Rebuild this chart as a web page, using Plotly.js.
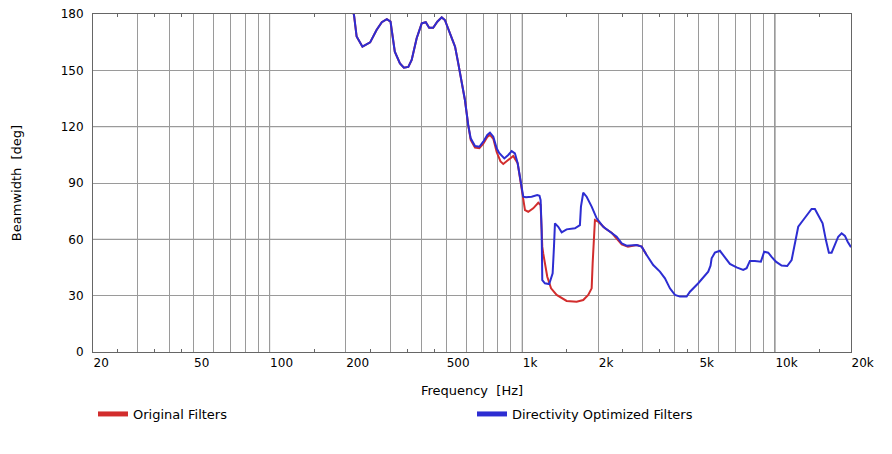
<!DOCTYPE html>
<html>
<head>
<meta charset="utf-8">
<script src="https://cdn.plot.ly/plotly-3.0.1.min.js"></script>
<style>
  body { margin: 0; background: #fff; }
  #beamwidth-chart { width: 892px; height: 454px; }
</style>
</head>
<body>
<div id="beamwidth-chart"></div>
<script>
// Beamwidth vs frequency
var freqOptimized = [212, 216, 221, 233, 250, 265, 278, 291, 301, 313, 328, 340, 354, 365, 382, 400, 415, 428, 444, 461,
    480, 494, 526, 542, 558, 575, 593, 611, 625, 650, 676, 701, 727, 745, 768, 792, 810, 849, 880, 908,
    935, 959, 979, 994, 1009, 1034, 1089, 1146, 1170, 1182, 1193, 1200, 1229, 1278, 1319, 1335, 1347, 1388, 1432, 1498,
    1616, 1691, 1707, 1743, 1798, 1882, 1970, 2092, 2224, 2364, 2475, 2588, 2836, 2968, 3106, 3298, 3506, 3670, 3840, 4020,
    4208, 4472, 4610, 4972, 5444, 5560, 5616, 5786, 6056, 6338, 6634, 7052, 7490, 7726, 7960, 8332, 8798, 9068, 9404, 9700,
    10088, 10626, 11182, 11642, 12074, 12364, 12942, 13418, 13966, 14392, 14832, 15440, 15912, 16350, 16760, 17272, 17802, 18362, 18924, 19400,
    20000];
var beamOptimized = [184, 179, 168, 162.6, 164.9, 171.5, 175.6, 177.2, 175.9, 159.9, 153.7, 151.4, 151.8, 155.5, 167.1, 175.0, 175.6, 172.7, 172.7, 175.9,
    178.2, 176.8, 167.1, 162.6, 153.7, 144.9, 134.2, 120.9, 113.8, 109.7, 109.3, 112.0, 115.6, 116.8, 114.7, 108.5, 106.0, 103.1, 104.9, 107.0,
    105.8, 100.5, 93.4, 88.0, 82.7, 82.4, 82.7, 83.6, 83.2, 80.9, 65.0, 38.3, 36.6, 36.2, 41.9, 56.1, 68.5, 66.7, 63.7, 65.3,
    65.9, 67.6, 77.4, 84.8, 82.7, 77.4, 71.2, 66.7, 64.1, 61.4, 57.9, 56.6, 57.0, 56.1, 51.7, 46.3, 42.8, 39.2, 33.9, 30.4,
    29.5, 29.5, 32.1, 36.6, 42.8, 46.0, 49.9, 52.9, 53.9, 50.7, 46.9, 45.1, 43.7, 44.6, 48.5, 48.5, 48.1, 53.4, 52.9, 50.7,
    48.1, 46.0, 45.8, 49.0, 58.7, 66.7, 70.3, 73.0, 76.2, 76.2, 73.0, 68.5, 59.6, 52.9, 52.9, 57.0, 61.4, 63.2, 61.8, 58.7,
    55.8];

var freqOriginal = [212, 216, 221, 233, 250, 265, 278, 291, 301, 313, 328, 340, 354, 365, 382, 400, 415, 428, 444, 461,
    480, 494, 526, 542, 558, 575, 593, 611, 625, 650, 676, 701, 727, 745, 768, 792, 820, 841, 880, 921,
    959, 979, 994, 1015, 1025, 1056, 1105, 1157, 1182, 1200, 1210, 1256, 1300, 1368, 1498, 1641, 1743, 1824, 1882, 1899,
    1921, 1939, 1998, 2124, 2258, 2364, 2475, 2620, 2836, 2968, 3106];
var beamOriginal = [184, 179, 168, 162.6, 164.9, 171.5, 175.6, 177.2, 175.9, 159.9, 153.7, 151.4, 151.8, 155.5, 167.1, 175.0, 175.6, 172.7, 172.7, 175.9,
    178.2, 176.8, 167.1, 162.6, 153.7, 144.9, 134.2, 120.9, 113.0, 108.9, 108.6, 111.0, 114.5, 115.6, 113.5, 106.5, 101.5, 100.1, 102.2, 104.4,
    100.5, 93.0, 86.0, 77.4, 75.6, 74.7, 76.5, 79.5, 78.3, 56.1, 52.6, 40.1, 33.9, 30.4, 27.2, 26.8, 27.7, 30.4, 33.9, 47.2,
    58.7, 70.3, 69.4, 65.9, 63.5, 60.5, 57.3, 56.1, 57.0, 56.1, 51.7];

// axis grid and labels
var xGridVals = [20, 30, 40, 50, 60, 70, 80, 90, 100, 200, 300, 400, 500, 600, 700, 800, 900,
    1000, 2000, 3000, 4000, 5000, 6000, 7000, 8000, 9000, 10000, 20000];
var xLabelMap = {20: '20', 50: '50', 100: '100', 200: '200', 500: '500', 1000: '1k',
    2000: '2k', 5000: '5k', 10000: '10k', 20000: '20k'};
var xSmallTicks = [25, 35, 45, 150, 250, 350, 450, 1500, 2500, 3500, 4500, 15000];
var xDecades = [100, 1000, 10000];
var yTickVals = [0, 30, 60, 90, 120, 150, 180];
var yDarkLines = [60, 120];

var redColor = '#d22d2d';
var blueColor = '#2d2dd2';
var lightGrid = '#9a9a9a';
var darkGrid = '#666666';

var traceOriginal = {
    x: freqOriginal, y: beamOriginal, type: 'scatter', mode: 'lines',
    name: 'Original Filters', showlegend: false,
    line: { color: redColor, width: 2 }
};
var traceOptimized = {
    x: freqOptimized, y: beamOptimized, type: 'scatter', mode: 'lines',
    name: 'Directivity Optimized Filters', showlegend: false,
    line: { color: blueColor, width: 2 }
};
// legend-only entries so the swatches are thick like the reference
var legOriginal = { x: [null], y: [null], type: 'scatter', mode: 'lines', legend: 'legend',
    name: 'Original Filters', line: { color: redColor, width: 5 } };
var legOptimized = { x: [null], y: [null], type: 'scatter', mode: 'lines', legend: 'legend2',
    name: 'Directivity Optimized Filters', line: { color: blueColor, width: 5 } };

var shapes = [];
xDecades.forEach(function (v) {
    shapes.push({ type: 'line', xref: 'x', yref: 'paper', x0: v, x1: v, y0: 0, y1: 1,
        line: { color: darkGrid, width: 1 }, layer: 'between' });
});
yDarkLines.forEach(function (v) {
    shapes.push({ type: 'line', xref: 'paper', yref: 'y', x0: 0, x1: 1, y0: v, y1: v,
        line: { color: darkGrid, width: 1 }, layer: 'between' });
});

var legendBase = {
    orientation: 'h',
    xref: 'container', yref: 'container',
    xanchor: 'left', yanchor: 'middle',
    y: 1 - 414 / 454,
    font: { size: 13 },
    bgcolor: 'rgba(0,0,0,0)'
};

var layout = {
    width: 892,
    height: 454,
    margin: { l: 93, r: 41, t: 14, b: 102 },
    paper_bgcolor: '#ffffff',
    plot_bgcolor: '#ffffff',
    font: { family: 'DejaVu Sans', size: 12, color: '#000000' },
    showlegend: true,
    xaxis: {
        type: 'log',
        range: [Math.log10(20), Math.log10(20000)],
        tickmode: 'array',
        tickvals: xGridVals,
        ticktext: xGridVals.map(function (v) { return xLabelMap[v] || ''; }),
        ticklabelposition: 'outside right',
        ticks: '',
        showgrid: true,
        gridcolor: lightGrid,
        gridwidth: 1,
        zeroline: false,
        showline: true,
        linecolor: darkGrid,
        linewidth: 1,
        mirror: 'ticks',
        minor: { tickmode: 'array', tickvals: xSmallTicks, ticks: 'inside', ticklen: 3,
            tickcolor: darkGrid, tickwidth: 1, showgrid: false },
        tickfont: { size: 12 },
        title: { text: 'Frequency  [Hz]', font: { size: 13 }, standoff: 16 },
        automargin: false
    },
    yaxis: {
        range: [0, 180],
        tickmode: 'array',
        tickvals: yTickVals,
        ticks: '',
        ticklabelstandoff: 6,
        showgrid: true,
        gridcolor: lightGrid,
        gridwidth: 1,
        zeroline: false,
        showline: true,
        linecolor: darkGrid,
        linewidth: 1,
        mirror: true,
        tickfont: { size: 12 },
        title: { text: 'Beamwidth  [deg]', font: { size: 13 }, standoff: 36 },
        automargin: false
    },
    legend: Object.assign({}, legendBase, { x: 93 / 892 }),
    legend2: Object.assign({}, legendBase, { x: 472 / 892 }),
    shapes: shapes
};

Plotly.newPlot('beamwidth-chart', [traceOriginal, traceOptimized, legOriginal, legOptimized], layout,
    { staticPlot: true, displayModeBar: false });
</script>
</body>
</html>
